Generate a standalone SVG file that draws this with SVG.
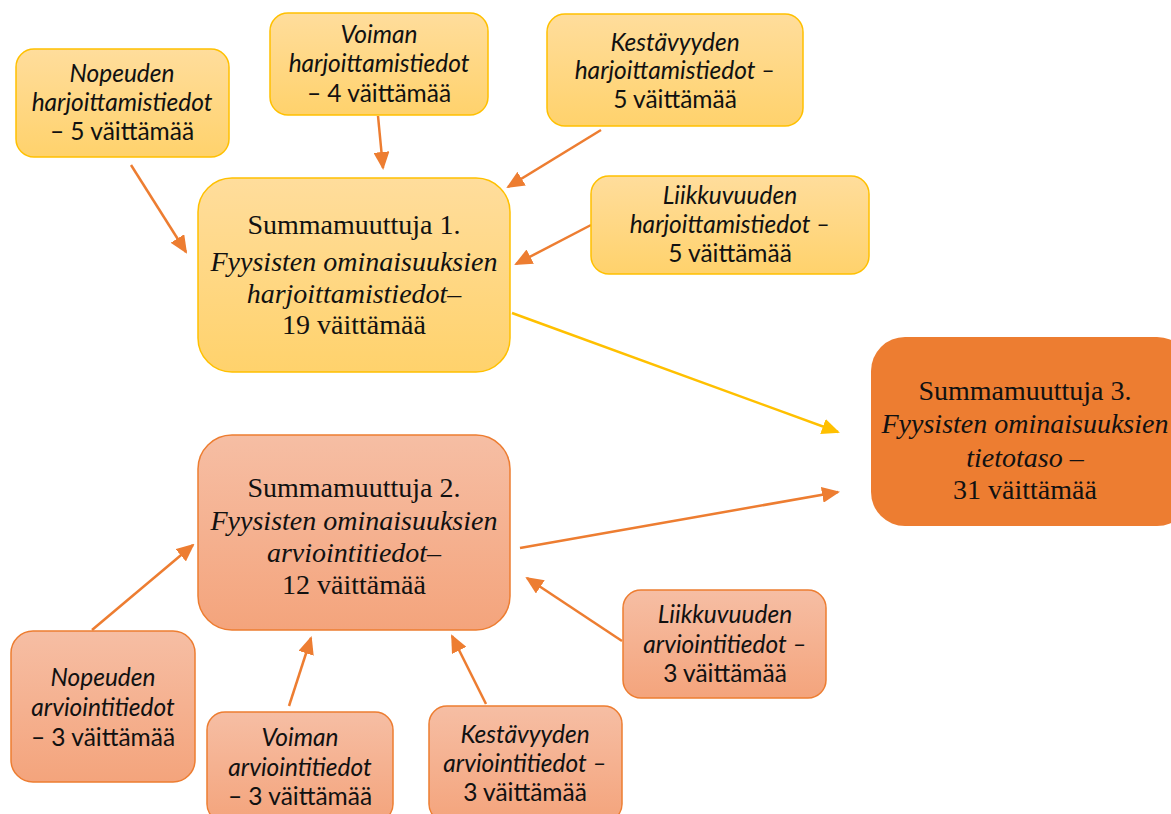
<svg xmlns="http://www.w3.org/2000/svg" width="1171" height="814" viewBox="0 0 1171 814">
<defs>
<linearGradient id="gy" x1="0" y1="0" x2="0" y2="1"><stop offset="0" stop-color="#FFDD9C"/><stop offset="1" stop-color="#FFD26C"/></linearGradient>
<linearGradient id="go" x1="0" y1="0" x2="0" y2="1"><stop offset="0" stop-color="#F6BEA4"/><stop offset="1" stop-color="#F4A47C"/></linearGradient>
<marker id="ao" viewBox="0 0 18 16" refX="16" refY="8" markerWidth="18" markerHeight="16" orient="auto" markerUnits="userSpaceOnUse"><path d="M0,0 L18,8 L0,16 z" fill="#ED7D31"/></marker>
<marker id="ay" viewBox="0 0 18 16" refX="16" refY="8" markerWidth="18" markerHeight="16" orient="auto" markerUnits="userSpaceOnUse"><path d="M0,0 L18,8 L0,16 z" fill="#FFC000"/></marker>
<style>
.y{fill:url(#gy);stroke:#FFC000;stroke-width:1.5}
.o{fill:url(#go);stroke:#ED7D31;stroke-width:1.5}
.s{font-family:Lato,"Liberation Sans",sans-serif;font-style:italic;font-size:24.5px;fill:#111;text-anchor:middle}
.n{font-style:normal}
.b{font-family:"Liberation Serif",serif;font-size:28px;fill:#111;text-anchor:middle}
.i{font-style:italic}
.c line{stroke-width:2.5;fill:none}
</style>
</defs>
<rect width="1171" height="814" fill="#fff"/>
<g class="c">
<line x1="131" y1="165" x2="186" y2="252" stroke="#ED7D31" marker-end="url(#ao)"/>
<line x1="378" y1="116" x2="383" y2="168" stroke="#ED7D31" marker-end="url(#ao)"/>
<line x1="601" y1="130" x2="508" y2="187" stroke="#ED7D31" marker-end="url(#ao)"/>
<line x1="591" y1="225" x2="516" y2="264" stroke="#ED7D31" marker-end="url(#ao)"/>
<line x1="512" y1="313" x2="838" y2="432" stroke="#FFC000" stroke-width="2" marker-end="url(#ay)"/>
<line x1="520" y1="548" x2="838" y2="492" stroke="#ED7D31" marker-end="url(#ao)"/>
<line x1="92" y1="630" x2="193" y2="545" stroke="#ED7D31" marker-end="url(#ao)"/>
<line x1="289" y1="706" x2="311" y2="638" stroke="#ED7D31" marker-end="url(#ao)"/>
<line x1="486" y1="704" x2="452" y2="636" stroke="#ED7D31" marker-end="url(#ao)"/>
<line x1="622" y1="641" x2="527" y2="578" stroke="#ED7D31" marker-end="url(#ao)"/>
</g>
<g id="n1"><rect class="y" x="16" y="49" width="213" height="108" rx="18"/>
<text class="s"><tspan x="122" y="82">Nopeuden</tspan><tspan x="122" y="111">harjoittamistiedot</tspan><tspan class="n" x="122" y="140">– 5 väittämää</tspan></text></g>
<g id="n2"><rect class="y" x="270" y="13" width="218" height="102" rx="18"/>
<text class="s"><tspan x="379" y="43">Voiman</tspan><tspan x="379" y="72">harjoittamistiedot</tspan><tspan class="n" x="379" y="102">– 4 väittämää</tspan></text></g>
<g id="n3"><rect class="y" x="547" y="14" width="256" height="112" rx="18"/>
<text class="s"><tspan x="675" y="51">Kestävyyden</tspan><tspan x="675" y="79">harjoittamistiedot –</tspan><tspan class="n" x="675" y="108">5 väittämää</tspan></text></g>
<g id="n4"><rect class="y" x="591" y="176" width="278" height="98" rx="18"/>
<text class="s"><tspan x="730" y="204">Liikkuvuuden</tspan><tspan x="730" y="233">harjoittamistiedot –</tspan><tspan class="n" x="730" y="262">5 väittämää</tspan></text></g>
<g id="s1"><rect class="y" x="198" y="178" width="312" height="194" rx="34"/>
<text class="b"><tspan x="354" y="234">Summamuuttuja 1.</tspan><tspan class="i" x="354" y="271">Fyysisten ominaisuuksien</tspan><tspan class="i" x="354" y="303">harjoittamistiedot–</tspan><tspan x="354" y="334">19 väittämää</tspan></text></g>
<g id="s3"><rect x="871" y="337" width="320" height="189" rx="34" fill="#ED7D31"/>
<text class="b"><tspan x="1025" y="400">Summamuuttuja 3.</tspan><tspan class="i" x="1025" y="433">Fyysisten ominaisuuksien</tspan><tspan class="i" x="1025" y="467">tietotaso –</tspan><tspan x="1025" y="499">31 väittämää</tspan></text></g>
<g id="s2"><rect class="o" x="198" y="435" width="312" height="195" rx="34"/>
<text class="b"><tspan x="354" y="497">Summamuuttuja 2.</tspan><tspan class="i" x="354" y="530">Fyysisten ominaisuuksien</tspan><tspan class="i" x="354" y="562">arviointitiedot–</tspan><tspan x="354" y="594">12 väittämää</tspan></text></g>
<g id="a1"><rect class="o" x="11" y="631" width="184" height="151" rx="22"/>
<text class="s"><tspan x="103" y="686">Nopeuden</tspan><tspan x="103" y="716">arviointitiedot</tspan><tspan class="n" x="103" y="746">– 3 väittämää</tspan></text></g>
<g id="a2"><rect class="o" x="207" y="712" width="186" height="110" rx="18"/>
<text class="s"><tspan x="300" y="746">Voiman</tspan><tspan x="300" y="776">arviointitiedot</tspan><tspan class="n" x="300" y="805">– 3 väittämää</tspan></text></g>
<g id="a3"><rect class="o" x="429" y="706" width="193" height="116" rx="18"/>
<text class="s"><tspan x="525" y="743">Kestävyyden</tspan><tspan x="525" y="772">arviointitiedot –</tspan><tspan class="n" x="525" y="801">3 väittämää</tspan></text></g>
<g id="a4"><rect class="o" x="623" y="590" width="203" height="108" rx="18"/>
<text class="s"><tspan x="725" y="623">Liikkuvuuden</tspan><tspan x="725" y="653">arviointitiedot –</tspan><tspan class="n" x="725" y="682">3 väittämää</tspan></text></g>
</svg>
